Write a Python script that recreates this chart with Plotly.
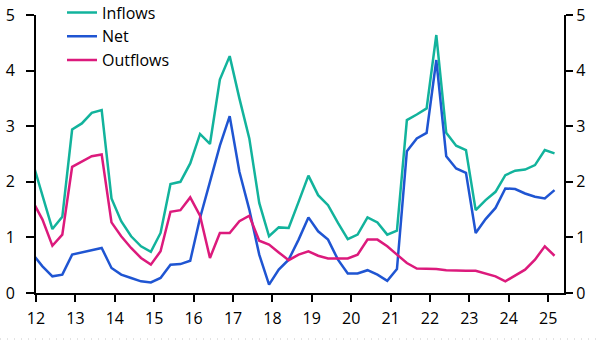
import pandas as pd
import plotly.graph_objects as go

# Quarterly observations (plotted at quarter-end month), Dec 2011 .. Mar 2025
quarters = pd.date_range("2011-12-01", periods=54, freq="3MS").strftime("%Y-%m-%d").tolist()

inflows = [2.35, 1.76, 1.15, 1.37, 2.94, 3.05, 3.24, 3.29, 1.70, 1.29,
           1.02, 0.84, 0.74, 1.08, 1.96, 2.00, 2.33, 2.86, 2.68, 3.84,
           4.26, 3.50, 2.78, 1.62, 1.02, 1.18, 1.17, 1.64, 2.11, 1.76,
           1.58, 1.26, 0.97, 1.05, 1.36, 1.27, 1.05, 1.12, 3.11, 3.21,
           3.32, 4.64, 2.88, 2.65, 2.57, 1.49, 1.67, 1.82, 2.12, 2.20,
           2.22, 2.30, 2.57, 2.51]

net = [0.70, 0.48, 0.30, 0.33, 0.69, 0.73, 0.78, 0.81, 0.45, 0.33,
       0.27, 0.21, 0.19, 0.27, 0.51, 0.52, 0.58, 1.35, 2.00, 2.65,
       3.18, 2.18, 1.50, 0.69, 0.15, 0.42, 0.60, 0.96, 1.36, 1.11,
       0.96, 0.60, 0.35, 0.35, 0.41, 0.33, 0.22, 0.43, 2.55, 2.78,
       2.88, 4.19, 2.46, 2.24, 2.16, 1.08, 1.33, 1.53, 1.88, 1.87,
       1.79, 1.73, 1.70, 1.85]

outflows = [1.65, 1.32, 0.85, 1.05, 2.27, 2.36, 2.46, 2.49, 1.27, 1.02,
            0.81, 0.63, 0.51, 0.75, 1.46, 1.49, 1.72, 1.39, 0.63, 1.08,
            1.08, 1.29, 1.39, 0.94, 0.87, 0.73, 0.59, 0.69, 0.75, 0.67,
            0.62, 0.62, 0.62, 0.69, 0.96, 0.96, 0.84, 0.69, 0.54, 0.44,
            0.44, 0.43, 0.41, 0.40, 0.40, 0.40, 0.35, 0.30, 0.21, 0.31,
            0.42, 0.60, 0.84, 0.67]

y_ticks = [0, 1, 2, 3, 4, 5]

TEAL = "#12B39C"
BLUE = "#1F55D2"
MAGENTA = "#DC1A7C"
FONT = "Open Sans"

fig = go.Figure()
fig.add_trace(go.Scatter(x=quarters, y=inflows, name="Inflows", mode="lines",
                         line=dict(color=TEAL, width=2.5)))
fig.add_trace(go.Scatter(x=quarters, y=net, name="Net", mode="lines",
                         line=dict(color=BLUE, width=2.5)))
fig.add_trace(go.Scatter(x=quarters, y=outflows, name="Outflows", mode="lines",
                         line=dict(color=MAGENTA, width=2.5), yaxis="y2"))

W, H = 597, 340
L, R, T, B = 36, 33, 15, 47
PH = H - B            # paper height (top margin 0)
ytop = (PH - T) / PH  # plot-area top as a fraction of paper

fig.update_layout(
    width=W, height=H,
    margin=dict(l=L, r=R, t=0, b=B, autoexpand=False),
    paper_bgcolor="white", plot_bgcolor="white",
    font=dict(family=FONT, size=16, color="black"),
    showlegend=True,
    legend=dict(x=(62 - L) / (W - L - R), y=1 + 4.5 / PH, xanchor="left", yanchor="top",
                bgcolor="rgba(0,0,0,0)", font=dict(size=16), tracegroupgap=0),
    xaxis=dict(type="date", range=["2012-01-01", "2025-05-28"],
               tick0="2012-01-01", dtick="M12", tickformat="%y",
               showline=True, linecolor="black", linewidth=2,
               ticks="outside", ticklen=7, tickwidth=2, tickcolor="black",
               ticklabelstandoff=3,
               showgrid=False, zeroline=False, automargin=False),
    yaxis=dict(range=[0, 5], tickvals=y_ticks, domain=[0, ytop],
               showline=True, linecolor="black", linewidth=2,
               ticks="outside", ticklen=8, tickwidth=2, tickcolor="black",
               ticklabelstandoff=8, automargin=False,
               showgrid=False, zeroline=False),
    yaxis2=dict(range=[0, 5], tickvals=y_ticks, overlaying="y", side="right",
                showline=True, linecolor="black", linewidth=2,
                ticks="outside", ticklen=7, tickwidth=2, tickcolor="black",
                automargin=False, showgrid=False, zeroline=False),
    shapes=[dict(type="line", xref="paper", yref="paper",
                 x0=-L / (W - L - R), x1=(W - L) / (W - L - R),
                 y0=-(339 - PH) / PH, y1=-(339 - PH) / PH,
                 line=dict(color="#c8c8c8", width=1, dash="1px,6px"))],
)

fig.write_html("out.html")
